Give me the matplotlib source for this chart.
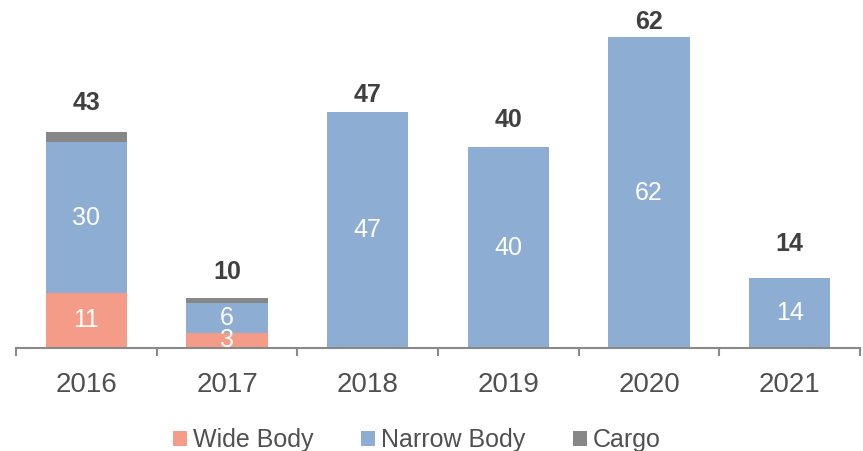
import numpy as np
import matplotlib
matplotlib.use("Agg")
import matplotlib.pyplot as plt

plt.rcParams["font.family"] = ["Liberation Sans", "DejaVu Sans"]

years = ["2016", "2017", "2018", "2019", "2020", "2021"]
wide_body = [11, 3, 0, 0, 0, 0]
narrow_body = [30, 6, 47, 40, 62, 14]
cargo = [2, 1, 0, 0, 0, 0]
# nudge of total labels above bar tops (pixels), as placed in the source chart
total_offset_px = [29, 26, 17, 27, 15, 34]

C_WIDE = "#F49C87"
C_NARROW = "#8EADD3"
C_CARGO = "#878787"
TXT = "#404040"
TXT2 = "#505050"

fig = plt.figure(figsize=(8.63, 4.51), dpi=100)
ax = fig.add_axes([16 / 863, 103 / 451, 844 / 863, 348 / 451])

x = np.arange(len(years))
w = 0.576
wide = np.array(wide_body)
nar = np.array(narrow_body)
car = np.array(cargo)
ax.bar(x, wide, w, color=C_WIDE, label="Wide Body")
ax.bar(x, nar, w, bottom=wide, color=C_NARROW, label="Narrow Body")
ax.bar(x, car, w, bottom=wide + nar, color=C_CARGO, label="Cargo")

ax.set_xlim(-0.5, len(years) - 0.5)
ax.set_ylim(0, 69.4)

# segment labels
for i in range(len(years)):
    if wide[i] > 0:
        ax.text(x[i], wide[i] / 2, str(wide[i]), ha="center", va="center",
                color="white", fontsize=18)
    if nar[i] > 0:
        ax.text(x[i], wide[i] + nar[i] / 2, str(nar[i]), ha="center", va="center",
                color="white", fontsize=18)
    tot = wide[i] + nar[i] + car[i]
    ax.annotate(str(tot), (x[i], tot), xytext=(0, total_offset_px[i] * 0.72),
                textcoords="offset points", ha="center", va="center",
                fontsize=18, fontweight="bold", color=TXT)

for s in ["top", "right", "left"]:
    ax.spines[s].set_visible(False)
ax.spines["bottom"].set_color("#898989")
ax.spines["bottom"].set_linewidth(1.5)
ax.set_yticks([])
ax.set_xticks(x)
ax.set_xticklabels(years, fontsize=20, color=TXT2)
ax.tick_params(axis="x", which="major", length=0, pad=17)
ax.set_xticks(np.arange(-0.5, len(years)), minor=True)
ax.tick_params(axis="x", which="minor", length=6, width=1.5, color="#898989")

fig.legend(loc="lower center", bbox_to_anchor=(0.483, -0.052), ncol=3, frameon=False,
           fontsize=18, handlelength=0.55, handleheight=0.55, handletextpad=0.25,
           columnspacing=1.9, labelcolor=TXT2)

fig.savefig("out.png", dpi=100)
